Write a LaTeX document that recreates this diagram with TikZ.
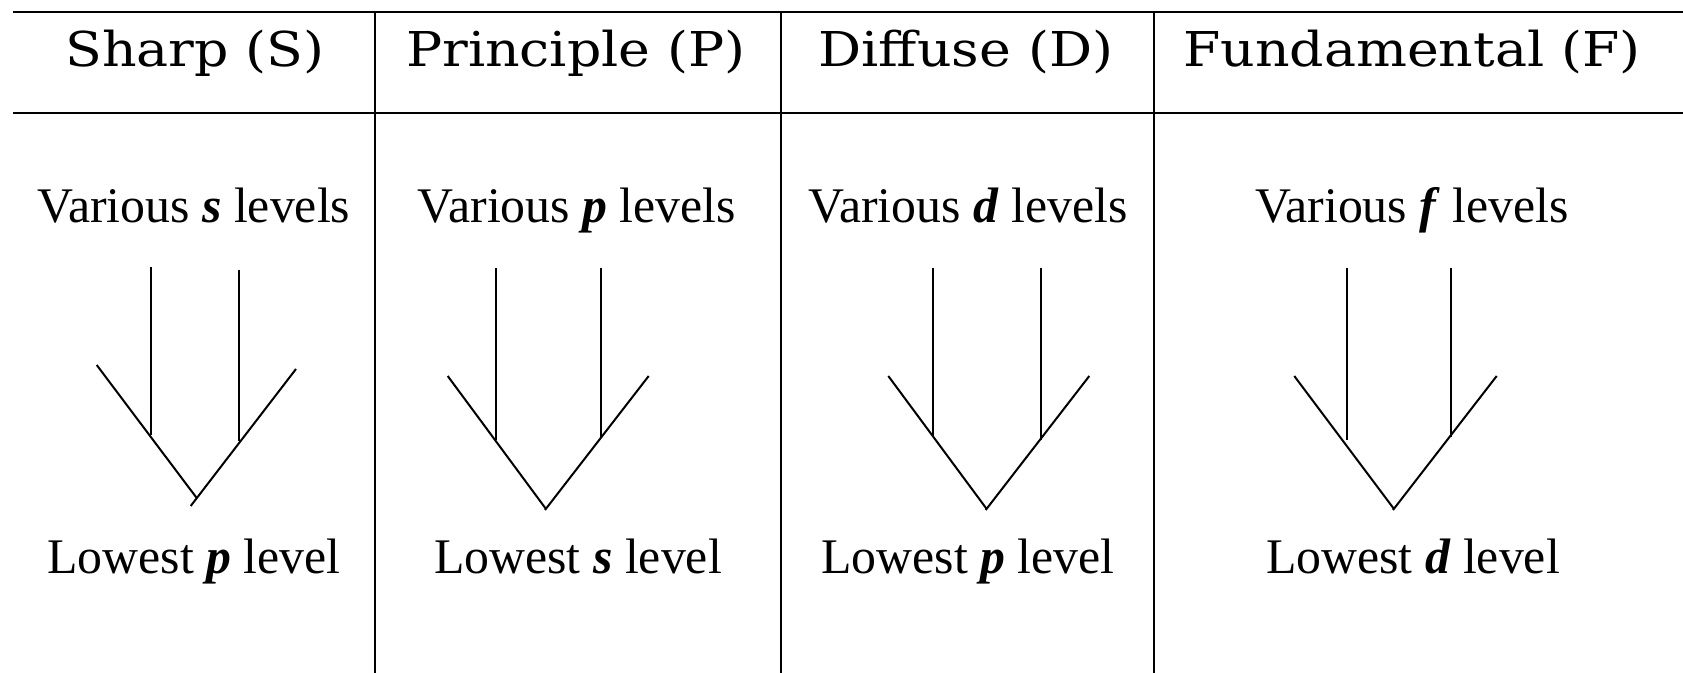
\documentclass[tikz,border=0pt]{standalone}
\usepackage{fontspec}
\setmainfont{Liberation Serif}
\newfontfamily\headfont[FakeStretch=1.12]{DejaVu Serif}
\begin{document}
\begin{tikzpicture}[x=0.5pt,y=-0.5pt,line width=1pt,
  head/.style={font=\headfont\fontsize{24}{28}\selectfont,anchor=base,inner sep=0pt},
  body/.style={font=\fontsize{24.9}{30}\selectfont,anchor=base,inner sep=0pt},
  rule/.style={line width=1pt},
  vline/.style={line width=1pt}]
\newcommand{\bi}[1]{\textbf{\textit{#1}}}
\useasboundingbox (0,0) rectangle (1683,673);
% table rules
\coordinate (tl) at (13,12);
\coordinate (tr) at (1683,12);
\coordinate (ml) at (13,113);
\coordinate (mr) at (1683,113);
\draw[rule] (tl) -- (tr);
\draw[rule] (ml) -- (mr);
\coordinate (s1t) at (375,12);   \coordinate (s1b) at (375,673);
\coordinate (s2t) at (781,12);   \coordinate (s2b) at (781,673);
\coordinate (s3t) at (1154,12);  \coordinate (s3b) at (1154,673);
\draw[rule] (s1t) -- (s1b);
\draw[rule] (s2t) -- (s2b);
\draw[rule] (s3t) -- (s3b);
% headers
\node[head] (h1) at (195,67) {Sharp (S)};
\node[head] (h2) at (576,67) {Principle (P)};
\node[head] (h3) at (966,67) {Diffuse (D)};
\node[head] (h4) at (1412,67) {Fundamental (F)};
% upper texts
\node[body] (u1) at (194,223) {Various \bi{s} levels};
\node[body] (u2) at (577,223) {Various \bi{p} levels};
\node[body] (u3) at (968,223) {Various \bi{d} levels};
\node[body] (u4) at (1412,223) {Various \bi{f} levels};
% lower texts
\node[body] (l1) at (194,574) {Lowest \bi{p} level};
\node[body] (l2) at (578,574) {Lowest \bi{s} level};
\node[body] (l3) at (968,574) {Lowest \bi{p} level};
\node[body] (l4) at (1413,574) {Lowest \bi{d} level};
% column 1 V
\draw[vline] (150.7,267) -- (150.7,435);
\draw[vline] (239,270) -- (239,441);
\draw[vline] (96.7,365) -- (196.7,498);
\draw[vline] (296,369) -- (190.7,506);
% column 2 V
\draw[vline] (496,268) -- (496,440);
\draw[vline] (600.7,268) -- (600.7,437);
\draw[vline] (447.7,376) -- (546,509);
\draw[vline] (648.7,376) -- (545,510);
% column 3 V
\draw[vline] (933.3,268) -- (933.3,437);
\draw[vline] (1041,268) -- (1041,440);
\draw[vline] (888.3,376) -- (986.7,509);
\draw[vline] (1089.3,376) -- (985.7,510);
% column 4 V
\draw[vline] (1346.7,268) -- (1346.7,440);
\draw[vline] (1451,268) -- (1451,437);
\draw[vline] (1294.3,376) -- (1394,509);
\draw[vline] (1496.7,376) -- (1393,510);
\end{tikzpicture}
\end{document}
